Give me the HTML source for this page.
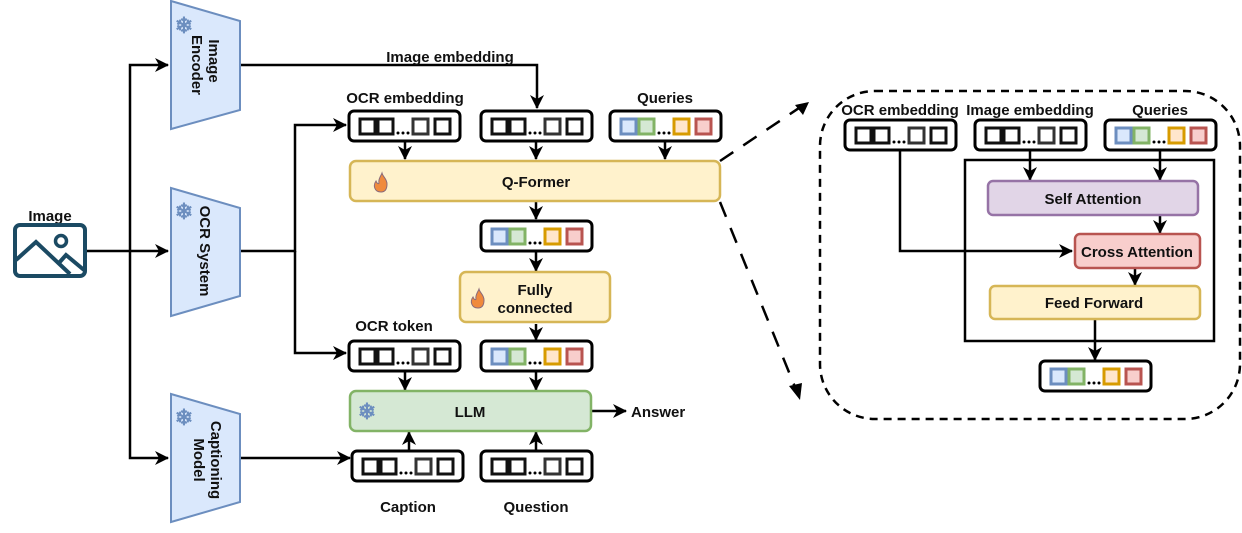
<!DOCTYPE html>
<html><head><meta charset="utf-8"><style>
html,body{margin:0;padding:0;background:#fff;}
svg{display:block;}
text{font-family:"Liberation Sans",sans-serif;font-weight:bold;font-size:15px;fill:#111;}
</style></head><body>
<svg width="1242" height="533" viewBox="0 0 1242 533" xmlns="http://www.w3.org/2000/svg">
<defs>
<marker id="a" markerWidth="14" markerHeight="14" refX="13" refY="7" orient="auto" markerUnits="userSpaceOnUse" viewBox="0 0 14 14">
<path d="M0,0 L14,7 L0,14 L4,7 Z" fill="#000"/></marker>
<marker id="b" markerWidth="14" markerHeight="14" refX="13" refY="7" orient="auto" markerUnits="userSpaceOnUse" viewBox="0 0 14 14">
<path d="M0,0 L14,7 L0,14 L4,7 Z" fill="#000"/></marker>
<g id="tp">
<rect x="0" y="0" width="111" height="30" rx="5" fill="#fff" stroke="#000" stroke-width="3"/>
<rect x="11" y="8" width="15" height="15" fill="#fff" stroke="#111" stroke-width="3"/>
<rect x="29" y="8" width="15" height="15" fill="#fff" stroke="#111" stroke-width="3"/>
<circle cx="49" cy="22" r="1.5"/><circle cx="54" cy="22" r="1.5"/><circle cx="59" cy="22" r="1.5"/>
<rect x="64" y="8" width="15" height="15" fill="#fff" stroke="#333" stroke-width="3"/>
<rect x="86" y="8" width="15" height="15" fill="#fff" stroke="#111" stroke-width="3"/>
</g>
<g id="tc">
<rect x="0" y="0" width="111" height="30" rx="5" fill="#fff" stroke="#000" stroke-width="3"/>
<rect x="11" y="8" width="15" height="15" fill="#dae8fc" stroke="#6c8ebf" stroke-width="3"/>
<rect x="29" y="8" width="15" height="15" fill="#d5e8d4" stroke="#82b366" stroke-width="3"/>
<circle cx="49" cy="22" r="1.5"/><circle cx="54" cy="22" r="1.5"/><circle cx="59" cy="22" r="1.5"/>
<rect x="64" y="8" width="15" height="15" fill="#ffe6cc" stroke="#d79b00" stroke-width="3"/>
<rect x="86" y="8" width="15" height="15" fill="#f8cecc" stroke="#b85450" stroke-width="3"/>
</g>
<g id="fire">
<path d="M0,10 C-7,10 -8,3 -5,-1 C-4,2 -2,2 -2,1 C-3,-3 0,-6 1,-9 C2,-5 6,-3 6,2 C6,7 4,10 0,10 Z" fill="#f08a3c" stroke="#8a6a7a" stroke-width="1"/>
</g>
</defs>

<text x="50" y="221" text-anchor="middle">Image</text>
<rect x="15" y="225" width="70" height="51" rx="5" fill="none" stroke="#1b4a63" stroke-width="4"/>
<path d="M16,260 L36,242 L70,274 M58,264 L66,255 L84,270" fill="none" stroke="#1b4a63" stroke-width="4"/>
<circle cx="61" cy="241" r="5.5" fill="none" stroke="#1b4a63" stroke-width="3.5"/>

<g fill="#dae8fc" stroke="#6c8ebf" stroke-width="2">
<path d="M171,1 L240,21 L240,110 L171,129 Z"/>
<path d="M171,188 L240,208 L240,296 L171,316 Z"/>
<path d="M171,394 L240,414 L240,502 L171,522 Z"/>
</g>
<text x="184" y="33" text-anchor="middle" style="fill:#6c8ebf;font-size:22px">❄</text>
<text x="184" y="219" text-anchor="middle" style="fill:#6c8ebf;font-size:22px">❄</text>
<text x="184" y="425" text-anchor="middle" style="fill:#6c8ebf;font-size:22px">❄</text>
<text transform="translate(209,61) rotate(90)" text-anchor="middle">Image</text>
<text transform="translate(192,65) rotate(90)" text-anchor="middle">Encoder</text>
<text transform="translate(200,251) rotate(90)" text-anchor="middle">OCR System</text>
<text transform="translate(211,460) rotate(90)" text-anchor="middle">Captioning</text>
<text transform="translate(194,460) rotate(90)" text-anchor="middle">Model</text>

<g stroke="#000" stroke-width="2.5" fill="none">
<path d="M87,251 L168,251" marker-end="url(#a)"/>
<path d="M130,251 L130,65 L168,65" marker-end="url(#a)"/>
<path d="M130,251 L130,458 L168,458" marker-end="url(#a)"/>
<path d="M241,65 L537,65 L537,108" marker-end="url(#a)"/>
<path d="M241,251 L295,251 L295,125 L346,125" marker-end="url(#a)"/>
<path d="M295,251 L295,353 L346,353" marker-end="url(#a)"/>
<path d="M241,458 L350,458" marker-end="url(#a)"/>
<path d="M405,142 L405,159" marker-end="url(#a)"/>
<path d="M536,142 L536,159" marker-end="url(#a)"/>
<path d="M665,142 L665,159" marker-end="url(#a)"/>
<path d="M536,202 L536,219" marker-end="url(#a)"/>
<path d="M536,252 L536,271" marker-end="url(#a)"/>
<path d="M536,324 L536,340" marker-end="url(#a)"/>
<path d="M405,372 L405,390" marker-end="url(#a)"/>
<path d="M536,372 L536,390" marker-end="url(#a)"/>
<path d="M409,450 L409,432" marker-end="url(#a)"/>
<path d="M536,450 L536,432" marker-end="url(#a)"/>
<path d="M592,411 L626,411" marker-end="url(#a)"/>
</g>
<text x="450" y="62" text-anchor="middle">Image embedding</text>
<text x="405" y="103" text-anchor="middle">OCR embedding</text>
<text x="665" y="103" text-anchor="middle">Queries</text>
<text x="394" y="331" text-anchor="middle">OCR token</text>
<text x="408" y="512" text-anchor="middle">Caption</text>
<text x="536" y="512" text-anchor="middle">Question</text>
<text x="631" y="417">Answer</text>

<use href="#tp" x="349" y="111"/>
<use href="#tp" x="481" y="111"/>
<use href="#tc" x="610" y="111"/>
<rect x="350" y="161" width="370" height="40" rx="6" fill="#fff2cc" stroke="#d6b656" stroke-width="2.5"/>
<use href="#fire" x="381" y="182"/>
<text x="536" y="187" text-anchor="middle">Q-Former</text>
<use href="#tc" x="481" y="221"/>
<rect x="460" y="272" width="150" height="50" rx="6" fill="#fff2cc" stroke="#d6b656" stroke-width="2.5"/>
<use href="#fire" x="478" y="298"/>
<text x="535" y="295" text-anchor="middle">Fully</text>
<text x="535" y="313" text-anchor="middle">connected</text>
<use href="#tp" x="349" y="341"/>
<use href="#tc" x="481" y="341"/>
<rect x="350" y="391" width="241" height="40" rx="6" fill="#d5e8d4" stroke="#82b366" stroke-width="2.5"/>
<text x="367" y="419" text-anchor="middle" style="fill:#6c8ebf;font-size:22px">❄</text>
<text x="470" y="417" text-anchor="middle">LLM</text>
<use href="#tp" x="352" y="451"/>
<use href="#tp" x="481" y="451"/>

<g stroke="#000" stroke-width="2.5" fill="none" stroke-dasharray="16,12">
<path d="M720,161 L805,104"/>
<path d="M720,202 L797,392"/>
</g>
<path d="M795,105 L809,102 L803,115 Z" fill="#000"/>
<path d="M789,386 L800,400 L802,383 Z" fill="#000"/>

<rect x="820" y="91" width="420" height="328" rx="55" fill="none" stroke="#000" stroke-width="2.5" stroke-dasharray="8,6"/>
<text x="900" y="115" text-anchor="middle">OCR embedding</text>
<text x="1030" y="115" text-anchor="middle">Image embedding</text>
<text x="1160" y="115" text-anchor="middle">Queries</text>
<use href="#tp" x="845" y="120"/>
<use href="#tp" x="975" y="120"/>
<use href="#tc" x="1105" y="120"/>
<rect x="965" y="160" width="249" height="181" fill="none" stroke="#000" stroke-width="2.5"/>
<g stroke="#000" stroke-width="2.5" fill="none">
<path d="M900,150 L900,251 L1072,251" marker-end="url(#b)"/>
<path d="M1030,150 L1030,180" marker-end="url(#b)"/>
<path d="M1160,150 L1160,180" marker-end="url(#b)"/>
<path d="M1160,216 L1160,233" marker-end="url(#b)"/>
<path d="M1135,268 L1135,285" marker-end="url(#b)"/>
<path d="M1095,320 L1095,360" marker-end="url(#b)"/>
</g>
<rect x="988" y="181" width="210" height="34" rx="5" fill="#e1d5e7" stroke="#9673a6" stroke-width="2.5"/>
<text x="1093" y="204" text-anchor="middle">Self Attention</text>
<rect x="1075" y="234" width="125" height="34" rx="5" fill="#f8cecc" stroke="#b85450" stroke-width="2.5"/>
<text x="1137" y="257" text-anchor="middle">Cross Attention</text>
<rect x="990" y="286" width="210" height="33" rx="5" fill="#fff2cc" stroke="#d6b656" stroke-width="2.5"/>
<text x="1094" y="308" text-anchor="middle">Feed Forward</text>
<use href="#tc" x="1040" y="361"/>
</svg>
</body></html>
